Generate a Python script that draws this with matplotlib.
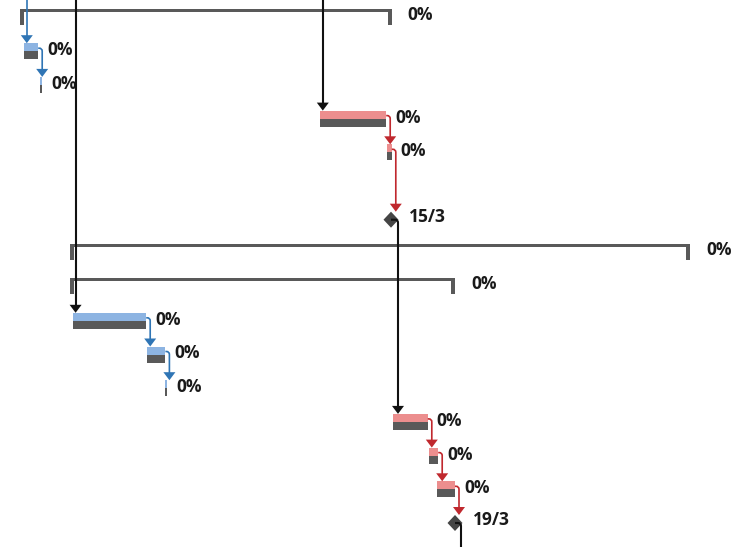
import matplotlib
matplotlib.use("Agg")
import matplotlib.pyplot as plt
from matplotlib.path import Path
from matplotlib.patches import PathPatch, Polygon

# Gantt data (x in days of March, rows counted from the top of the view)
bar_rows = [1, 2, 3, 4, 9, 10, 11, 12, 13, 14]
bar_start = [-7.95, -6.95, 10.55, 14.75, -4.9, -0.25, 0.9, 15.1, 17.35, 17.9]
bar_finish = [-7.05, -6.8, 14.7, 15.05, -0.3, 0.9, 1.0, 17.3, 17.95, 19.0]
bar_critical = [False, False, True, True, False, False, False, True, True, True]
bar_labels = ["0%", "0%", "0%", "0%", "0%", "0%", "0%", "0%", "0%", "0%"]

summary_rows = [0, 7, 8]
summary_start = [-8.2, -5.05, -5.05]
summary_finish = [15.05, 33.7, 19.0]
summary_labels = ["0%", "0%", "0%"]

milestone_rows = [6, 15]
milestone_day = [15.0, 19.0]
milestone_labels = ["15/3", "19/3"]

# finish-to-start links between rows (predecessor row, successor row)
links = [(1, 2), (3, 4), (4, 6), (9, 10), (10, 11), (12, 13), (13, 14), (14, 15), (6, 12)]
# links coming from tasks above the view, and leaving below it
incoming_rows = [1, 3, 9]
outgoing_rows = [15]

# scale of the picture
PX_DAY = 16.0
PX_ROW = 33.7
W, H = 742, 547
X0 = 15 - 391 / PX_DAY
Y0 = -17.5 / PX_ROW


def dx(px):
    return px / PX_DAY


def dy(px):
    return px / PX_ROW


BLUE_BAR = "#8db4e2"
PINK_BAR = "#ec8e8e"
GRAY = "#595959"
BLUE_LINK = "#2f75b5"
RED_LINK = "#c0282e"
BLACK = "#111111"
TXT = "#1a1a1a"

fig = plt.figure(figsize=(W / 100, H / 100), dpi=100)
ax = fig.add_axes([0, 0, 1, 1])
ax.set_xlim(X0, X0 + dx(W))
ax.set_ylim(Y0 + dy(H), Y0)
ax.axis("off")

font = dict(fontsize=12.5, fontweight="bold", family=["Open Sans", "DejaVu Sans"], color=TXT,
            va="center", ha="left")

# task bars: coloured top half, grey baseline below
for r, s, f, crit, lab in zip(bar_rows, bar_start, bar_finish, bar_critical, bar_labels):
    top = PINK_BAR if crit else BLUE_BAR
    ax.barh(r - dy(4), f - s, left=s, height=dy(8), color=top, linewidth=0)
    ax.barh(r + dy(4), f - s, left=s, height=dy(8), color=GRAY, linewidth=0)
    ax.text(f + dx(9), r - dy(1), lab, **font)

# summary bars
for r, s, f, lab in zip(summary_rows, summary_start, summary_finish, summary_labels):
    ax.barh(r - dy(7.5), f - s, left=s, height=dy(3), color=GRAY, linewidth=0)
    ax.barh(r - dy(1), dx(4), left=s, height=dy(16), color=GRAY, linewidth=0)
    ax.barh(r - dy(1), dx(4), left=f - dx(4), height=dy(16), color=GRAY, linewidth=0)
    ax.text(f + dx(16), r - dy(3), lab, **font)

# milestones
for r, d, lab in zip(milestone_rows, milestone_day, milestone_labels):
    ax.add_patch(Polygon([(d - dx(7.5), r), (d, r - dy(8)), (d + dx(7.5), r), (d, r + dy(8))],
                         closed=True, color="#454545", linewidth=0, zorder=3))
    ax.text(d + dx(18), r - dy(3), lab, **font)


def row_info(r):
    if r in bar_rows:
        i = bar_rows.index(r)
        return bar_start[i], bar_finish[i], bar_critical[i], "bar"
    i = milestone_rows.index(r)
    return milestone_day[i], milestone_day[i], True, "milestone"


def arrow_head(x, ytip, color):
    ax.add_patch(Polygon([(x - dx(6), ytip - dy(8)), (x + dx(6), ytip - dy(8)), (x, ytip)],
                         closed=True, color=color, linewidth=0, zorder=4))


def top_of(r):
    kind = row_info(r)[3]
    return r - dy(8) if kind == "bar" else r - dy(8)


def draw_link(x0, y0, xv, yend, color, lw, head=True):
    verts = [(x0, y0), (xv - dx(3), y0), (xv, y0), (xv, y0 + dy(3)), (xv, yend - (dy(7) if head else 0))]
    codes = [Path.MOVETO, Path.LINETO, Path.CURVE3, Path.CURVE3, Path.LINETO]
    ax.add_patch(PathPatch(Path(verts, codes), fill=False, edgecolor=color, linewidth=lw, zorder=4))
    if head:
        arrow_head(xv, yend, color)


for p, s in links:
    ps, pf, pcrit, pkind = row_info(p)
    if pkind == "milestone":
        x0, y0, xv, color, lw = pf, p, pf + dx(7), BLACK, 1.5
    else:
        x0, y0, xv = pf, p - dy(3), pf + dx(4)
        color = RED_LINK if pcrit else BLUE_LINK
        lw = 1.2
    draw_link(x0, y0, xv, top_of(s), color, lw)

for r in incoming_rows:
    s, f, crit, kind = row_info(r)
    color = BLACK if r != 1 else BLUE_LINK
    xv = s + dx(3)
    ytip = top_of(r)
    ax.plot([xv, xv], [Y0 - 1, ytip - dy(7)], color=color, lw=1.5 if color == BLACK else 1.2, zorder=4)
    arrow_head(xv, ytip, color)

for r in outgoing_rows:
    s, f, crit, kind = row_info(r)
    draw_link(f, r, f + dx(6), Y0 + dy(H) + 1, BLACK, 1.5, head=False)

fig.savefig("out.png", dpi=100, facecolor="white")
